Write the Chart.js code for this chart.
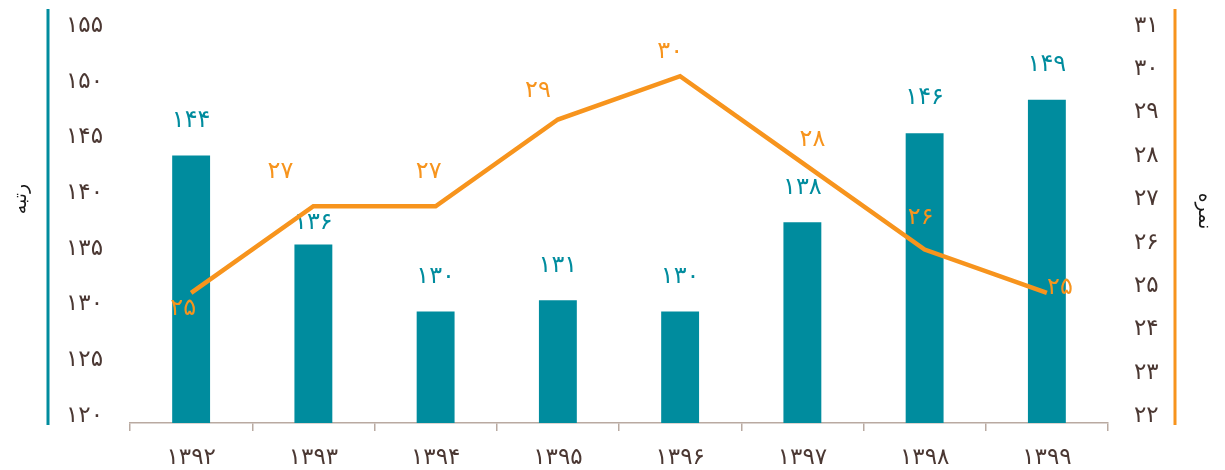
<!DOCTYPE html>
<html>
<head>
<meta charset="utf-8">
<script src="https://cdn.jsdelivr.net/npm/chart.js@4"></script>
<style>
  html, body { margin: 0; padding: 0; background: #ffffff; }
  #wrap { width: 1225px; height: 470px; position: relative; }
</style>
</head>
<body>
<div id="wrap"><canvas id="c"></canvas></div>
<script>
// ---- data ----
const categories = ['۱۳۹۲', '۱۳۹۳', '۱۳۹۴', '۱۳۹۵', '۱۳۹۶', '۱۳۹۷', '۱۳۹۸', '۱۳۹۹'];
const rankValues = [144, 136, 130, 131, 130, 138, 146, 149];
const scoreValues = [25, 27, 27, 29, 30, 28, 26, 25];
const rankTitle = 'رتبه';
const scoreTitle = 'نمره';
const rankAxis = { min: 120, max: 155, step: 5 };
const scoreAxis = { min: 22, max: 31, step: 1 };

// ---- styling ----
const TEAL = '#008c9e';
const ORANGE = '#f7941d';
const TICK_COLOR = '#4b3833';
const AXIS_GRAY = '#b9aaa1';
const FONT = '"DejaVu Sans", sans-serif';

const faDigits = '۰۱۲۳۴۵۶۷۸۹';
function toFa(v) { return String(v).replace(/\d/g, d => faDigits[+d]); }

// label placement tweaks (pixel shifts relative to the mark)
const barLabelShift = [[0,-35],[0,-22],[0,-35],[0,-35],[0,-35],[0,-35],[0,-35],[0,-35]];
const lineLabelShift = [[-8,16],[-33,-34],[-7,-34],[-20,-29],[-10,-24],[10,-23],[-4,-32],[13,-5]];

const labelPlugin = {
  id: 'valueLabels',
  afterDatasetDraw(chart, args) {
    const ctx = chart.ctx;
    const ds = chart.data.datasets[args.index];
    const meta = args.meta;
    const shifts = args.index === 0 ? barLabelShift : lineLabelShift;
    const color = args.index === 0 ? TEAL : ORANGE;
    ctx.save();
    ctx.font = '24px ' + FONT;
    ctx.fillStyle = color;
    ctx.textAlign = 'center';
    ctx.textBaseline = 'middle';
    meta.data.forEach((el, i) => {
      const s = shifts[i] || [0, 0];
      ctx.fillText(toFa(ds.data[i]), el.x + s[0], el.y + s[1]);
    });
    ctx.restore();
  },
  afterDraw(chart) {
    const ctx = chart.ctx;
    ctx.save();
    ctx.lineWidth = 3;
    ctx.strokeStyle = TEAL;
    ctx.beginPath(); ctx.moveTo(48, 9); ctx.lineTo(48, 425); ctx.stroke();
    ctx.strokeStyle = ORANGE;
    ctx.beginPath(); ctx.moveTo(1175, 9); ctx.lineTo(1175, 425); ctx.stroke();
    // axis titles
    ctx.font = '19px ' + FONT;
    ctx.fillStyle = '#1a1a1a';
    ctx.textAlign = 'center';
    ctx.textBaseline = 'middle';
    ctx.save();
    ctx.translate(21, 199);
    ctx.rotate(-Math.PI / 2);
    ctx.fillText(rankTitle, 0, 0);
    ctx.restore();
    ctx.save();
    ctx.translate(1204, 211);
    ctx.rotate(Math.PI / 2);
    ctx.fillText(scoreTitle, 0, 0);
    ctx.restore();
    ctx.restore();
  }
};

new Chart(document.getElementById('c'), {
  data: {
    labels: categories,
    datasets: [
      {
        type: 'bar',
        label: rankTitle,
        data: rankValues,
        yAxisID: 'y',
        backgroundColor: TEAL,
        borderWidth: 0,
        categoryPercentage: 1.0,
        barPercentage: 0.31,
        order: 2
      },
      {
        type: 'line',
        label: scoreTitle,
        data: scoreValues,
        yAxisID: 'y1',
        borderColor: ORANGE,
        borderWidth: 4.5,
        pointRadius: 0,
        tension: 0,
        fill: false,
        order: 1
      }
    ]
  },
  options: {
    responsive: true,
    maintainAspectRatio: false,
    animation: false,
    layout: { padding: { top: 26, left: 0, right: 0, bottom: 0 } },
    plugins: {
      legend: { display: false },
      tooltip: { enabled: false }
    },
    scales: {
      x: {
        offset: true,
        grid: {
          display: true,
          offset: true,
          drawOnChartArea: false,
          drawTicks: true,
          tickLength: 8,
          color: AXIS_GRAY,
          lineWidth: 1.5
        },
        border: { display: true, color: AXIS_GRAY, width: 1.5 },
        ticks: {
          color: TICK_COLOR,
          font: { family: FONT, size: 23 },
          padding: 13,
          maxRotation: 0
        },
        afterFit(scale) { scale.height = 47; }
      },
      y: {
        position: 'left',
        min: rankAxis.min,
        max: rankAxis.max,
        grid: { display: false },
        border: { display: false },
        ticks: {
          stepSize: rankAxis.step,
          color: TICK_COLOR,
          font: { family: FONT, size: 23 },
          padding: 19,
          labelOffset: -7,
          callback: v => toFa(v)
        },
        title: { display: false },
        afterFit(scale) { scale.width = 130; }
      },
      y1: {
        position: 'right',
        min: scoreAxis.min,
        max: scoreAxis.max,
        grid: { display: false },
        border: { display: false },
        ticks: {
          stepSize: scoreAxis.step,
          color: TICK_COLOR,
          font: { family: FONT, size: 23 },
          padding: 18,
          labelOffset: -7,
          callback: v => toFa(v)
        },
        title: { display: false },
        afterFit(scale) { scale.width = 117; }
      }
    }
  },
  plugins: [labelPlugin]
});
</script>
</body>
</html>
